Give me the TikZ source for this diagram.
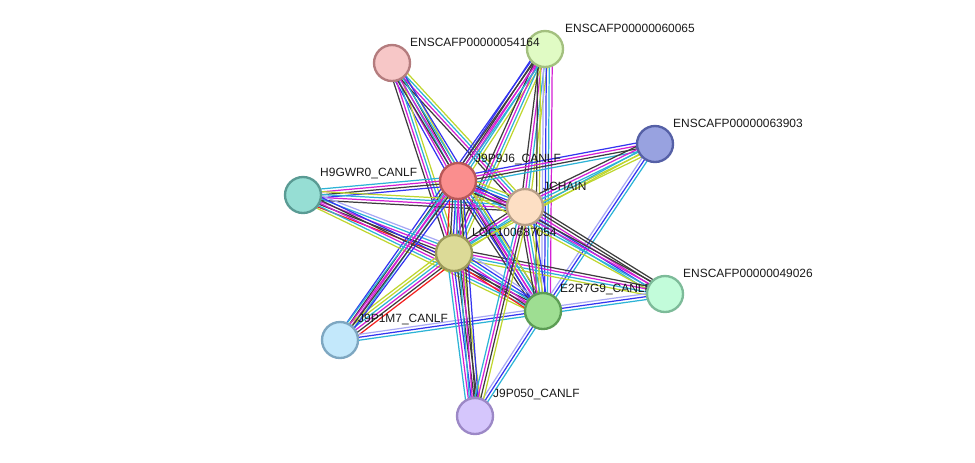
\documentclass[tikz,border=0pt]{standalone}
\usepackage{fontspec}
\setmainfont{Liberation Sans}
\usepackage{tikz}
\usetikzlibrary{calc,backgrounds}
\definecolor{coexp}{HTML}{3D3D3D}
\definecolor{exper}{HTML}{D41FD4}
\definecolor{dbase}{HTML}{2DB3D6}
\definecolor{tmine}{HTML}{BFD62E}
\definecolor{cooc}{HTML}{3434F0}
\definecolor{homol}{HTML}{A8A8F5}
\definecolor{fusion}{HTML}{F21F1F}
\pgfdeclarelayer{middle}
\pgfsetlayers{background,middle,main}
% one line per evidence colour, side by side
\newcommand{\bundle}[3]{%
  \foreach \c [count=\i] in {#3} {\xdef\nb{\i}}%
  \foreach \c [count=\i, evaluate=\i as \off using {(\i-(\nb+1)/2)*2.5}] in {#3}
    \draw[edge,\c] ($(#1)!\off pt!90:(#2)$) -- ($(#2)!\off pt!-90:(#1)$);%
}

\begin{document}
\begin{tikzpicture}[x=0.03cm,y=-0.03cm,font=\fontsize{10.2}{12}\selectfont,
  prot/.style={circle,minimum size=1.08cm,inner sep=0pt,line width=2pt},
  lbl/.style={anchor=west,inner sep=0pt,text=black!90},
  edge/.style={line width=1.05pt}]
\useasboundingbox (0,0) rectangle (975,462);
% proteins
\node[prot,fill={rgb,255:red,224;green,251;blue,196},draw={rgb,255:red,163;green,192;blue,127}] (s60065) at (545,49) {};
\node[prot,fill={rgb,255:red,247;green,199;blue,199},draw={rgb,255:red,180;green,124;blue,126}] (s54164) at (392,63) {};
\node[lbl] (t54164) at ($(s54164)+(18,-21)$) {ENSCAFP00000054164};
\node[prot,fill={rgb,255:red,152;green,162;blue,224},draw={rgb,255:red,85;green,96;blue,166}] (s63903) at (655,144) {};
\node[prot,fill={rgb,255:red,150;green,222;blue,212},draw={rgb,255:red,90;green,155;blue,148}] (h9gwr0) at (303,195) {};
\node[prot,fill={rgb,255:red,250;green,142;blue,142},draw={rgb,255:red,184;green,88;blue,88}] (j9p9j6) at (458,181) {};
\node[prot,fill={rgb,255:red,253;green,223;blue,196},draw={rgb,255:red,184;green,160;blue,136}] (jchain) at (525,207) {};
\node[prot,fill={rgb,255:red,220;green,218;blue,151},draw={rgb,255:red,156;green,154;blue,90}] (loc) at (454,253) {};
\node[prot,fill={rgb,255:red,194;green,252;blue,218},draw={rgb,255:red,125;green,187;blue,153}] (s49026) at (665,294) {};
\node[prot,fill={rgb,255:red,158;green,222;blue,146},draw={rgb,255:red,92;green,157;blue,84}] (e2r7g9) at (543,311) {};
\node[prot,fill={rgb,255:red,195;green,232;blue,251},draw={rgb,255:red,126;green,167;blue,193}] (j9p1m7) at (340,340) {};
\node[prot,fill={rgb,255:red,213;green,198;blue,252},draw={rgb,255:red,156;green,136;blue,198}] (j9p050) at (475,416) {};
% names
\begin{pgfonlayer}{middle}
\node[lbl] (t60065) at ($(s60065)+(20,-21)$) {ENSCAFP00000060065};
\node[lbl] (t63903) at ($(s63903)+(18,-21)$) {ENSCAFP00000063903};
\node[lbl] (th9gwr0) at ($(h9gwr0)+(17,-21)$) {H9GWR0\_CANLF};
\node[lbl] (tj9p9j6) at ($(j9p9j6)+(17,-21)$) {J9P9J6\_CANLF};
\node[lbl] (tjchain) at ($(jchain)+(18,-21)$) {JCHAIN};
\node[lbl] (tloc) at ($(loc)+(18,-21)$) {LOC100687054};
\node[lbl] (t49026) at ($(s49026)+(18,-21)$) {ENSCAFP00000049026};
\node[lbl] (te2r7g9) at ($(e2r7g9)+(17,-21)$) {E2R7G9\_CANLF};
\node[lbl] (tj9p1m7) at ($(j9p1m7)+(18,-20)$) {J9P1M7\_CANLF};
\node[lbl] (tj9p050) at ($(j9p050)+(18,-21)$) {J9P050\_CANLF};
\end{pgfonlayer}
% evidence
\begin{pgfonlayer}{background}
\bundle{s54164}{j9p9j6}{cooc,exper,dbase,coexp,tmine}
\bundle{s54164}{loc}{coexp,exper,dbase,tmine}
\bundle{s54164}{jchain}{coexp,exper,dbase,tmine}
\bundle{s54164}{e2r7g9}{coexp,exper,dbase,cooc}
\bundle{s60065}{j9p9j6}{cooc,coexp,exper,dbase,tmine}
\bundle{s60065}{loc}{coexp,exper,dbase,tmine}
\bundle{s60065}{jchain}{coexp,exper,dbase,tmine}
\bundle{s60065}{e2r7g9}{coexp,tmine,homol,cooc,dbase,exper}
\bundle{s60065}{j9p1m7}{cooc,coexp,exper,dbase}
\bundle{s63903}{j9p9j6}{cooc,exper,coexp,dbase}
\bundle{s63903}{jchain}{coexp,exper,dbase,tmine,tmine}
\bundle{s63903}{loc}{dbase,tmine}
\bundle{s63903}{e2r7g9}{homol,cooc,dbase}
\bundle{h9gwr0}{j9p9j6}{cooc,coexp,exper,dbase}
\bundle{h9gwr0}{jchain}{coexp,exper,dbase,tmine}
\bundle{h9gwr0}{loc}{fusion,coexp,exper,dbase,homol}
\bundle{h9gwr0}{e2r7g9}{tmine,dbase,exper,coexp,cooc}
\bundle{s49026}{jchain}{coexp,coexp,exper,cooc,dbase}
\bundle{s49026}{j9p9j6}{coexp,exper,dbase,tmine}
\bundle{s49026}{loc}{coexp,exper,dbase,tmine}
\bundle{s49026}{e2r7g9}{homol,cooc,dbase}
\bundle{j9p9j6}{jchain}{coexp,exper,cooc,dbase,tmine}
\bundle{j9p9j6}{loc}{fusion,coexp,cooc,exper,dbase,tmine}
\bundle{j9p9j6}{e2r7g9}{coexp,cooc,exper,dbase,tmine}
\bundle{jchain}{loc}{coexp,exper,dbase,tmine}
\bundle{jchain}{e2r7g9}{coexp,exper,dbase,tmine,cooc}
\bundle{loc}{e2r7g9}{fusion,coexp,exper,dbase,cooc,homol}
\bundle{j9p1m7}{loc}{fusion,coexp,exper,dbase,tmine,tmine}
\bundle{j9p1m7}{j9p9j6}{cooc,coexp,exper,dbase}
\bundle{j9p1m7}{e2r7g9}{dbase,cooc,homol}
\bundle{j9p050}{loc}{tmine,coexp,coexp,cooc,exper,dbase}
\bundle{j9p050}{j9p9j6}{cooc,coexp,exper,dbase}
\bundle{j9p050}{e2r7g9}{dbase,cooc,homol}
\bundle{j9p050}{jchain}{tmine,coexp,exper,dbase}
\end{pgfonlayer}
\end{tikzpicture}
\end{document}
